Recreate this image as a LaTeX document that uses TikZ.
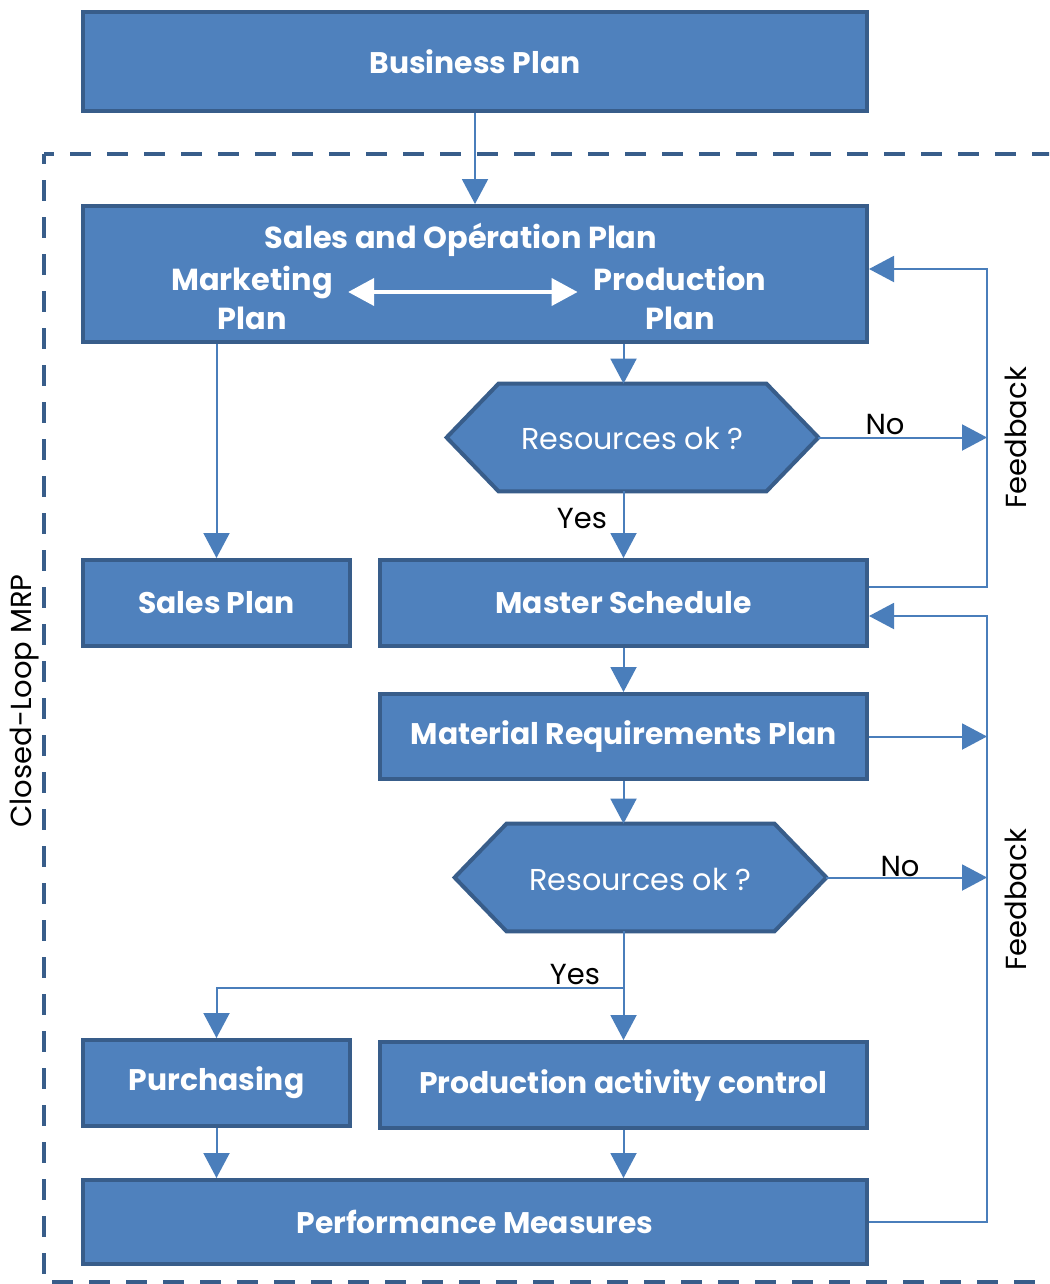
\documentclass[tikz,border=0pt]{standalone}
\usepackage{fontspec}
\setmainfont{Poppins}
\usetikzlibrary{arrows.meta,calc}
\definecolor{boxfill}{HTML}{4F81BD}
\definecolor{boxline}{HTML}{385D8A}
\definecolor{conn}{HTML}{4A7EBB}
\tikzset{
  blockbox/.style={rectangle, draw=boxline, fill=boxfill, line width=2pt, text=white,
    font=\fontsize{14.9}{19}\selectfont\bfseries, inner sep=0pt, align=center},
  inbox/.style={text=white, font=\fontsize{15.2}{19.5}\selectfont\bfseries, inner sep=0pt, align=center},
  hexbox/.style={rectangle, inner sep=0pt},
  hexdraw/.style={draw=boxline, fill=boxfill, line width=2pt, line join=miter},
  hextext/.style={text=white, font=\fontsize{15.1}{19}\selectfont, inner sep=0pt},
  arr/.style={draw=conn, line width=1pt, -{Triangle[length=12.5pt,width=13pt]}},
  dbl/.style={draw=white, line width=2pt, {Triangle[length=13pt,width=13.5pt]}-{Triangle[length=13pt,width=13.5pt]}},
  lbl/.style={text=black, font=\fontsize{14.5}{17}\selectfont, inner sep=0pt},
  frame/.style={draw=boxline, line width=2pt, dash pattern=on 10.5pt off 8pt, dash phase=5.5pt}
}
\begin{document}
\begin{tikzpicture}[x=0.5pt,y=-0.5pt]
\clip (0,0) rectangle (1049,1284);
\fill[white] (0,0) rectangle (1049,1284);

% dashed frame (Closed-Loop MRP)
\coordinate (fc) at (44,154);
\draw[frame] (fc) -- (1060,154);
\draw[frame] (fc) -- (44,1282) -- (1060,1282);

% boxes
\node[blockbox, minimum width=392pt, minimum height=49.5pt] (bp) at (475,61.5) {Business Plan};
\node[blockbox, minimum width=392pt, minimum height=68pt] (sop) at (475,274) {};
\node[inbox] (sopt) at (461,240) {Sales and Opération Plan};
\node[inbox] (mk) at (252,298) {Marketing\\Plan};
\node[inbox] (pp) at (680,298) {Production\\Plan};
\node[blockbox, minimum width=133.5pt, minimum height=43pt] (sp) at (216.5,603) {Sales Plan};
\node[blockbox, minimum width=243.5pt, minimum height=43pt] (ms) at (623.5,603) {Master Schedule};
\node[blockbox, minimum width=243.5pt, minimum height=42.5pt] (mrp) at (623.5,736.5) {Material Requirements Plan};
\node[blockbox, minimum width=133.5pt, minimum height=43pt] (pur) at (216.5,1083) {Purchasing};
\node[blockbox, minimum width=243.5pt, minimum height=43pt] (pac) at (623.5,1085) {Production activity control};
\node[blockbox, minimum width=392pt, minimum height=42pt] (pm) at (475,1222) {Performance Measures};

% hexagons
\node[hexbox, minimum width=185.5pt, minimum height=53.5pt] (h1) at (632.5,437.5) {};
\draw[hexdraw] (h1.west) -- ($(h1.north west)+(52,0)$) -- ($(h1.north east)+(-52,0)$) -- (h1.east)
  -- ($(h1.south east)+(-52,0)$) -- ($(h1.south west)+(52,0)$) -- cycle;
\node[hextext] at ($(h1)+(0,1)$) {Resources ok ?};
\node[hexbox, minimum width=185.5pt, minimum height=53.5pt] (h2) at (640.5,877.5) {};
\draw[hexdraw] (h2.west) -- ($(h2.north west)+(52,0)$) -- ($(h2.north east)+(-52,0)$) -- (h2.east)
  -- ($(h2.south east)+(-52,0)$) -- ($(h2.south west)+(52,0)$) -- cycle;
\node[hextext] at ($(h2)+(0,2)$) {Resources ok ?};

% double arrow inside S&OP
\draw[dbl] ($(mk.east)+(15,-6)$) -- ($(pp.west)+(-16,-6)$);

% feedback bus coordinates
\coordinate (fb1) at (987,438);
\coordinate (fb2) at (987,900);
\coordinate (br) at (623.5,988);

% connectors
\draw[arr] (bp) -- (sop);
\draw[arr] (sop.south -| sp.north) -- (sp.north);
\draw[arr] (sop.south -| ms.north) -- (h1.north -| ms.north);
\draw[arr] (h1.south -| ms.north) -- (ms.north);
\draw[arr] (h1.east) -- (h1.east -| fb1);
\draw[arr] ($(ms.east)+(0,-16)$) -| (fb1) |- ($(sop.east)+(0,-5)$);
\draw[arr] (ms) -- (mrp);
\draw[arr] (mrp.south) -- (h2.north -| mrp.south);
\draw[arr] (mrp.east) -- (mrp.east -| fb2);
\draw[arr] (h2.east) -- (h2.east -| fb2);
\draw[arr] (pm.east) -| (fb2) |- ($(ms.east)+(0,13)$);
\draw[arr] (h2.south -| pac.north) -- (pac.north);
\draw[arr] (br) -| (pur.north);
\draw[arr] (pur) -- (pur.south |- pm.north);
\draw[arr] (pac) -- (pac.south |- pm.north);

% labels
\node[lbl] (no1) at (885,425) {No};
\node[lbl] (yes1) at (582,519) {Yes};
\node[lbl] (no2) at (900,866) {No};
\node[lbl] (yes2) at (575,975) {Yes};
\node[lbl, rotate=90] (fbl1) at (1016,438) {Feedback};
\node[lbl, rotate=90] (fbl2) at (1016,900) {Feedback};
\node[lbl, rotate=90] (clm) at (25,701) {Closed-Loop MRP};
\end{tikzpicture}
\end{document}
